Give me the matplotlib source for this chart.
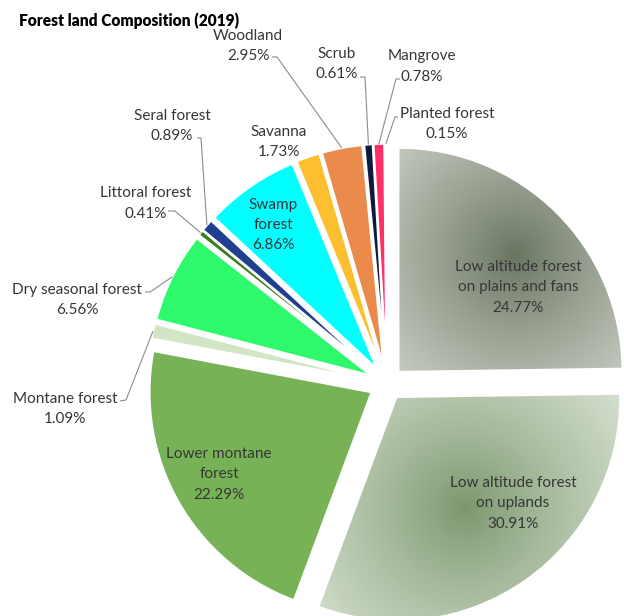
import numpy as np
import matplotlib
matplotlib.use("Agg")
import matplotlib.pyplot as plt

plt.rcParams['font.family'] = ['Lato', 'DejaVu Sans']

W, H = 624, 616

categories = [
    "Low altitude forest on plains and fans",
    "Low altitude forest on uplands",
    "Lower montane forest",
    "Montane forest",
    "Dry seasonal forest",
    "Littoral forest",
    "Seral forest",
    "Swamp forest",
    "Savanna",
    "Woodland",
    "Scrub",
    "Mangrove",
    "Planted forest",
]
shares = [24.77, 30.91, 22.29, 1.09, 6.56, 0.41, 0.89, 6.86, 1.73, 2.95, 0.61, 0.78, 0.15]
colors = ["#9aa293", "#a9bc9e", "#78b257", "#d0e6c4", "#2ef86c", "#3b7d23",
          "#1f3f8f", "#00ffff", "#fcbf2f", "#ea8a4b", "#0c1a3d", "#ff3068", "#bdd7ee"]

# wrapped label text for slices whose names are broken over lines
wrapped = {
    "Low altitude forest on plains and fans": "Low altitude forest\non plains and fans",
    "Low altitude forest on uplands": "Low altitude forest\non uplands",
    "Lower montane forest": "Lower montane\nforest",
    "Swamp forest": "Swamp\nforest",
}

# label centres in pixel coordinates (top-left origin)
label_pos = {
    "Low altitude forest on plains and fans": (518, 287.5),
    "Low altitude forest on uplands": (513, 503.5),
    "Lower montane forest": (219, 474.5),
    "Montane forest": (65, 409),
    "Dry seasonal forest": (77, 300),
    "Littoral forest": (146, 203.5),
    "Seral forest": (172, 126),
    "Swamp forest": (273, 225),
    "Savanna": (279, 142),
    "Woodland": (248, 46),
    "Scrub": (337, 64),
    "Mangrove": (422, 66.5),
    "Planted forest": (447, 124),
}
# leader line start and elbow near each outside label (pixel coords)
leaders = {
    "Woodland": [(272, 57), (277, 57)],
    "Seral forest": [(197, 138), (201, 138)],
    "Littoral forest": [(168, 211), (175, 211)],
    "Dry seasonal forest": [(145, 292), (150, 292)],
    "Montane forest": [(120, 401), (126, 400)],
    "Scrub": [(360, 77), (365, 77)],
    "Mangrove": [(400, 79), (396, 79)],
    "Planted forest": [(398, 117), (395, 117)],
}

CX, CY, R = 387.0, 383.5, 222.0
EXPLODE = 0.08


def px(x, y):
    return x, H - y


fig = plt.figure(figsize=(W / 100, H / 100), dpi=100)
ax = fig.add_axes([0, 0, 1, 1])

wedges, _ = ax.pie(
    shares, colors=colors, explode=[EXPLODE * R] * len(shares), radius=R,
    center=px(CX, CY), startangle=90, counterclock=False,
    wedgeprops=dict(edgecolor='white', linewidth=1.5), frame=True)
ax.set_xlim(0, W)
ax.set_ylim(0, H)
ax.set_aspect('equal')
ax.axis('off')


def radial_fill(wedge, centre, radius, dark, light, power=1.0):
    xs = np.arange(0, W) + 0.5
    ys = np.arange(0, H) + 0.5
    gx, gy = np.meshgrid(xs, ys)
    cx, cy = centre
    t = np.clip(np.hypot(gx - cx, gy - cy) / radius, 0, 1) ** power
    d = np.array(matplotlib.colors.to_rgb(dark))
    l = np.array(matplotlib.colors.to_rgb(light))
    img = d[None, None, :] * (1 - t[..., None]) + l[None, None, :] * t[..., None]
    im = ax.imshow(img, extent=(0, W, 0, H), origin='upper',
                   zorder=wedge.get_zorder() + 0.1, interpolation='bilinear')
    im.set_clip_path(wedge)


radial_fill(wedges[0], (515, 255), 180, "#67735f", "#cdd1c7", 0.85)
radial_fill(wedges[1], (465, 508), 190, "#7a966c", "#d4dfce", 0.85)
ax.set_xlim(0, W)
ax.set_ylim(0, H)
ax.set_aspect('equal')

text_color = "#363636"
for name, val, wedge in zip(categories, shares, wedges):
    text = f"{wrapped.get(name, name)}\n{val:.2f}%"
    x, y = label_pos[name]
    ax.text(*px(x, y), text, ha='center', va='center', multialignment='center',
            fontsize=11, color=text_color, linespacing=1.55, zorder=5)
    if name in leaders:
        mid = np.deg2rad((wedge.theta1 + wedge.theta2) / 2)
        wx, wy = wedge.center
        end = (wx + wedge.r * np.cos(mid), wy + wedge.r * np.sin(mid))
        pts = [px(*p) for p in leaders[name]] + [end]
        ax.plot([p[0] for p in pts], [p[1] for p in pts], color="#8c8c8c",
                linewidth=0.8, zorder=4, solid_capstyle='butt')

ax.text(*px(19, 20.5), "Forest land Composition (2019)", ha='left', va='center',
        fontsize=11.2, fontweight='heavy', color='black')

fig.savefig("out.png", dpi=100, facecolor='white')
